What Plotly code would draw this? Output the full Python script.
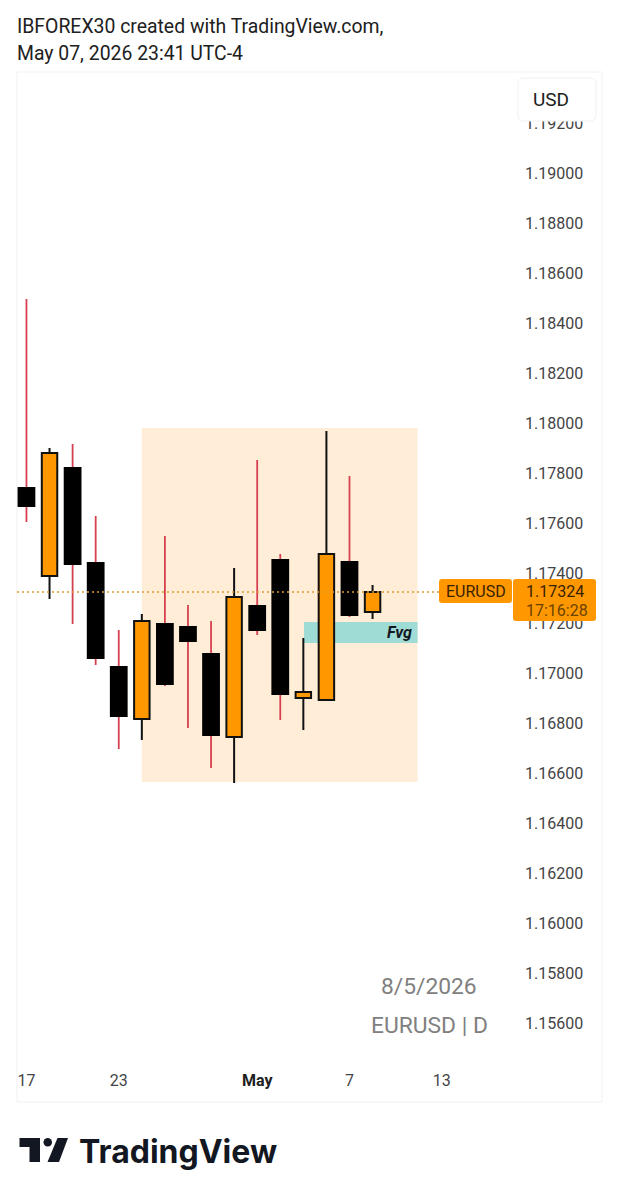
import plotly.graph_objects as go

# daily candles, Apr 17 to May 8
opens = [1.17744, 1.17388, 1.17824, 1.17444, 1.17028, 1.16816, 1.17200, 1.17188,
         1.17080, 1.16744, 1.17272, 1.17456, 1.16900, 1.16892, 1.17448, 1.17244]
highs = [1.18496, 1.17900, 1.17916, 1.17628, 1.17172, 1.17236, 1.17548, 1.17272,
         1.17208, 1.17420, 1.17852, 1.17476, 1.17140, 1.17968, 1.17788, 1.17352]
lows = [1.17604, 1.17296, 1.17196, 1.17032, 1.16696, 1.16732, 1.16948, 1.16780,
        1.16620, 1.16560, 1.17152, 1.16812, 1.16772, 1.16892, 1.17224, 1.17216]
closes = [1.17664, 1.17880, 1.17432, 1.17056, 1.16824, 1.17208, 1.16952, 1.17124,
          1.16748, 1.17304, 1.17168, 1.16912, 1.16924, 1.17476, 1.17228, 1.17324]

price_ticks = [1.156, 1.158, 1.160, 1.162, 1.164, 1.166, 1.168, 1.170, 1.172, 1.174,
               1.176, 1.178, 1.180, 1.182, 1.184, 1.186, 1.188, 1.190, 1.192]
day_ticks = [0, 4, 10, 14, 18]
day_labels = ["17", "23", "<span style='color:#202020'><b>May</b></span>", "7", "13"]

last_price = 1.17324
zone_box = [5, 16.95, 1.16564, 1.17980]
fvg_box = [12.03, 16.95, 1.17120, 1.17204]

ORANGE = "#FF9800"
RED_WICK = "#D6404F"
INK = "#131722"

W, H = 619, 1200
L, R, T, B = 17, 520, 72, 1063


def px(x):
    return (x - L) / (R - L)


def py(y):
    return (B - y) / (B - T)


def round_rect(x0, y0, x1, y1, r):
    # rounded box in page pixels, converted to paper coords
    pts = [
        f"M {px(x0 + r)} {py(y0)}", f"L {px(x1 - r)} {py(y0)}",
        f"Q {px(x1)} {py(y0)} {px(x1)} {py(y0 + r)}", f"L {px(x1)} {py(y1 - r)}",
        f"Q {px(x1)} {py(y1)} {px(x1 - r)} {py(y1)}", f"L {px(x0 + r)} {py(y1)}",
        f"Q {px(x0)} {py(y1)} {px(x0)} {py(y1 - r)}", f"L {px(x0)} {py(y0 + r)}",
        f"Q {px(x0)} {py(y0)} {px(x0 + r)} {py(y0)}", "Z",
    ]
    return " ".join(pts)


def poly(points):
    return "M " + " L ".join(f"{px(a)} {py(b)}" for a, b in points) + " Z"


def label(x, y, text, size=16, color=INK, anchor="center", **kw):
    fig.add_annotation(x=px(x), y=py(y), xref="paper", yref="paper", text=text, showarrow=False,
                       xanchor=anchor, yanchor="middle", borderpad=0,
                       font=dict(family=kw.pop("family", "Roboto"), size=size, color=color), **kw)


days = list(range(len(opens)))
up = [d for d in days if closes[d] > opens[d]]
down = [d for d in days if closes[d] <= opens[d]]


def wick_xy(idx):
    xs, ys = [], []
    for d in idx:
        top = max(opens[d], closes[d])
        bottom = min(opens[d], closes[d])
        xs += [d, d, None, d, d, None]
        ys += [highs[d], top, None, bottom, lows[d], None]
    return xs, ys


fig = go.Figure()

wx, wy = wick_xy(down)
fig.add_trace(go.Scatter(x=wx, y=wy, mode="lines", line=dict(color=RED_WICK, width=1.8), hoverinfo="skip"))
wx, wy = wick_xy(up)
fig.add_trace(go.Scatter(x=wx, y=wy, mode="lines", line=dict(color="#111111", width=2), hoverinfo="skip"))

fig.add_trace(go.Bar(x=down, y=[opens[d] - closes[d] for d in down], base=[closes[d] for d in down],
                     width=0.77, marker=dict(color="#000000", line=dict(width=0)), hoverinfo="skip"))
fig.add_trace(go.Bar(x=up, y=[closes[d] - opens[d] for d in up], base=[opens[d] for d in up],
                     width=0.67, marker=dict(color=ORANGE, line=dict(color="#111111", width=2)), hoverinfo="skip"))

# pane frame and the two drawn boxes under the candles
fig.add_shape(type="rect", xref="paper", yref="paper", x0=px(17), x1=px(602), y0=py(1102), y1=py(72),
              line=dict(color="#F1F1F3", width=1), layer="below")
fig.add_shape(type="rect", x0=zone_box[0], x1=zone_box[1], y0=zone_box[2], y1=zone_box[3],
              fillcolor="#FFEDD8", line=dict(width=0), layer="below")
fig.add_shape(type="rect", x0=fvg_box[0], x1=fvg_box[1], y0=fvg_box[2], y1=fvg_box[3],
              fillcolor="#9FDCD5", line=dict(width=0), layer="below")

# last price line, on top of the candles
fig.add_shape(type="line", x0=-0.41, x1=17.93, y0=last_price, y1=last_price,
              line=dict(color="#DE9A2F", width=1.5, dash="2px,3px"))

# currency button and price tags cover the axis labels
fig.add_shape(type="path", xref="paper", yref="paper", path=round_rect(518, 78, 596, 121, 6),
              fillcolor="#FFFFFF", line=dict(color="#F1F1F3", width=1))
fig.add_shape(type="path", xref="paper", yref="paper", path=round_rect(439, 579, 512, 603, 3),
              fillcolor=ORANGE, line=dict(width=0))
fig.add_shape(type="path", xref="paper", yref="paper", path=round_rect(513, 579, 596, 621, 3),
              fillcolor=ORANGE, line=dict(width=0))

# logo mark
fig.add_shape(type="path", xref="paper", yref="paper", fillcolor=INK, line=dict(width=0),
              path=poly([(19.5, 1138), (40, 1138), (40, 1162), (29.5, 1162), (29.5, 1147), (19.5, 1147)]))
fig.add_shape(type="circle", xref="paper", yref="paper", fillcolor=INK, line=dict(width=0),
              x0=px(43.5), x1=px(52), y0=py(1146.5), y1=py(1138))
fig.add_shape(type="path", xref="paper", yref="paper", fillcolor=INK, line=dict(width=0),
              path=poly([(57.5, 1138), (68, 1138), (59, 1162), (47.5, 1162)]))

label(16, 26, "IBFOREX30 created with TradingView.com,", size=19.4, color="#202020", anchor="left")
label(16, 53.5, "May 07, 2026 23:41 UTC-4", size=19.4, color="#202020", anchor="left")
label(551, 99, "USD", size=19, color="#202020")
label(475.5, 591.5, "EURUSD", size=16, color="#3A2200")
label(525, 591.5, "1.17324", size=16, color="#3A2200", anchor="left")
label(525, 610, "17:16:28", size=16, color="#6B4200", anchor="left")
label(429, 986, "8/5/2026", size=22.8, color="#808080")
label(429, 1025, "EURUSD | D", size=22.8, color="#808080")
label(78, 1151, "<b>TradingView</b>", size=32, color=INK, anchor="left", family="Inter")
fig.add_annotation(x=16.8, y=(fvg_box[2] + fvg_box[3]) / 2, text="<b><i>Fvg</i></b>", showarrow=False,
                   xanchor="right", yanchor="middle", font=dict(family="Roboto", size=16, color=INK))

fig.update_layout(
    width=W, height=H,
    margin=dict(l=L, r=W - R, t=T, b=H - B, pad=0),
    paper_bgcolor="#FFFFFF", plot_bgcolor="#FFFFFF",
    showlegend=False, barmode="overlay", hovermode=False,
    font=dict(family="Roboto", size=16, color="#444444"),
)
fig.update_xaxes(range=[-0.41, 21.39], tickmode="array", tickvals=day_ticks, ticktext=day_labels,
                 showgrid=False, zeroline=False, showline=False, ticks="", ticklabelstandoff=6,
                 tickfont=dict(family="Roboto", size=16, color="#444444"))
fig.update_yaxes(range=[1.1544, 1.19404], side="right", tickmode="array", tickvals=price_ticks,
                 tickformat=".5f", showgrid=False, zeroline=False, showline=False, ticks="",
                 ticklabelstandoff=4, tickfont=dict(family="Roboto", size=16, color="#444444"))

fig.write_html("out.html", config=dict(displayModeBar=False),
               post_script="document.body.style.margin='0';")
